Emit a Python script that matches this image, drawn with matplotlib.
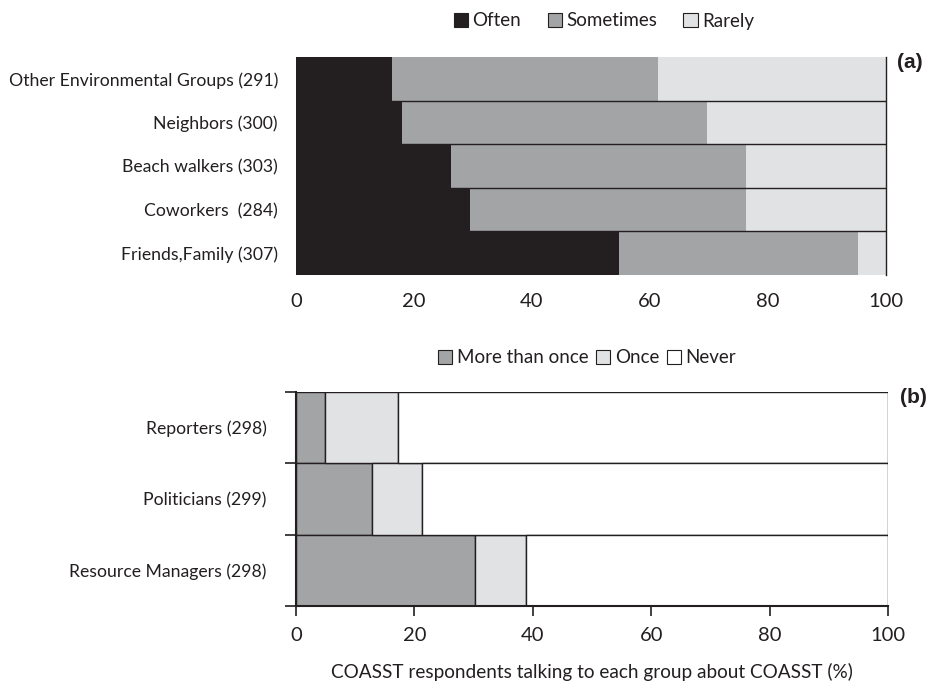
import matplotlib
matplotlib.use("Agg")
import matplotlib.pyplot as plt
from matplotlib.patches import Patch

plt.rcParams['font.family'] = ['Lato', 'DejaVu Sans']

# Panel (a)
cats_a = ["Other Environmental Groups (291)", "Neighbors (300)", "Beach walkers (303)",
          "Coworkers  (284)", "Friends,Family (307)"]
often = [16.2, 17.9, 26.3, 29.5, 54.7]
sometimes = [45.2, 51.7, 50.0, 46.8, 40.5]
rarely = [38.6, 30.4, 23.7, 23.7, 4.8]

# Panel (b)
cats_b = ["Reporters (298)", "Politicians (299)", "Resource Managers (298)"]
more_than_once = [4.9, 12.9, 30.2]
once = [12.4, 8.4, 8.7]
never = [82.7, 78.7, 61.1]

xticks = [0, 20, 40, 60, 80, 100]

c_dark = '#231F20'
c_mid = '#A3A4A6'
c_light = '#E1E2E4'
txt = '#231F20'

fig = plt.figure(figsize=(9.32, 6.94), dpi=100)

# ---------- (a) ----------
axa = fig.add_axes([296/932, 1-275/694, 590/932, 218/694])
ya = list(range(len(cats_a)))[::-1]
left = [0]*len(cats_a)
for vals, col in [(often, c_dark), (sometimes, c_mid), (rarely, c_light)]:
    axa.barh(ya, vals, left=left, height=1.0, color=col, edgecolor='none')
    left = [l+v for l, v in zip(left, vals)]
for b in [0.5, 1.5, 2.5, 3.5]:
    axa.axhline(b, color=c_dark, lw=1.0, zorder=3)
axa.set_xlim(0, 100)
axa.set_ylim(-0.5, len(cats_a)-0.5)
axa.set_yticks(ya)
axa.set_yticklabels(cats_a, fontsize=12.7, color=txt)
axa.set_xticks(xticks)
axa.set_xticklabels([str(t) for t in xticks], fontsize=14.5, color=txt)
axa.tick_params(axis='both', length=0)
axa.tick_params(axis='x', pad=13)
axa.tick_params(axis='y', pad=13)
for s in ['top', 'left', 'bottom']:
    axa.spines[s].set_visible(False)
axa.spines['right'].set_color(c_dark)
axa.spines['right'].set_linewidth(1.0)

hand_a = [Patch(facecolor=c_dark, edgecolor=c_dark, lw=0.8, label='Often'),
          Patch(facecolor=c_mid, edgecolor=c_dark, lw=0.8, label='Sometimes'),
          Patch(facecolor=c_light, edgecolor=c_dark, lw=0.8, label='Rarely')]
fig.legend(handles=hand_a, loc='center', bbox_to_anchor=(604/932, 1-21/694), ncol=3,
           frameon=False, fontsize=13.5, handlelength=0.75, handleheight=0.75,
           handletextpad=0.25, columnspacing=1.4, labelcolor=txt)

fig.text(897/932, 1-62/694, '(a)', fontsize=15, fontweight='bold', family='Liberation Sans',
         ha='left', va='center', color=txt)

# ---------- (b) ----------
axb = fig.add_axes([296/932, 1-606/694, 592/932, 214/694])
yb = list(range(len(cats_b)))[::-1]
left = [0]*len(cats_b)
for vals, col in [(more_than_once, c_mid), (once, c_light), (never, 'white')]:
    axb.barh(yb, vals, left=left, height=1.0, color=col, edgecolor=c_dark, lw=1.0)
    left = [l+v for l, v in zip(left, vals)]
axb.set_xlim(0, 100)
axb.set_ylim(-0.5, len(cats_b)-0.5)
axb.set_yticks([-0.5, 0.5, 1.5, 2.5])
axb.set_yticklabels([])
axb.set_yticks(yb, minor=True)
axb.set_yticklabels(cats_b, minor=True, fontsize=12.7, color=txt)
axb.tick_params(axis='y', which='minor', length=0, pad=21)
axb.tick_params(axis='y', which='major', length=8, width=1.2, color=c_dark)
axb.set_xticks(xticks)
axb.set_xticklabels([str(t) for t in xticks], fontsize=14.5, color=txt)
axb.tick_params(axis='x', length=7, width=1.2, color=c_dark, pad=8)
for s in ['top', 'right']:
    axb.spines[s].set_visible(False)
for s in ['left', 'bottom']:
    axb.spines[s].set_color(c_dark)
    axb.spines[s].set_linewidth(1.5)
axb.set_xlabel('COASST respondents talking to each group about COASST (%)', fontsize=13.7,
               color=txt, labelpad=14)

hand_b = [Patch(facecolor=c_mid, edgecolor=c_dark, lw=0.8, label='More than once'),
          Patch(facecolor=c_light, edgecolor=c_dark, lw=0.8, label='Once'),
          Patch(facecolor='white', edgecolor=c_dark, lw=0.8, label='Never')]
fig.legend(handles=hand_b, loc='center', bbox_to_anchor=(587/932, 1-358/694), ncol=3,
           frameon=False, fontsize=13.5, handlelength=0.75, handleheight=0.75,
           handletextpad=0.25, columnspacing=0.4, labelcolor=txt)

fig.text(900/932, 1-397/694, '(b)', fontsize=15, fontweight='bold', family='Liberation Sans',
         ha='left', va='center', color=txt)

fig.savefig('out.png', dpi=100)
